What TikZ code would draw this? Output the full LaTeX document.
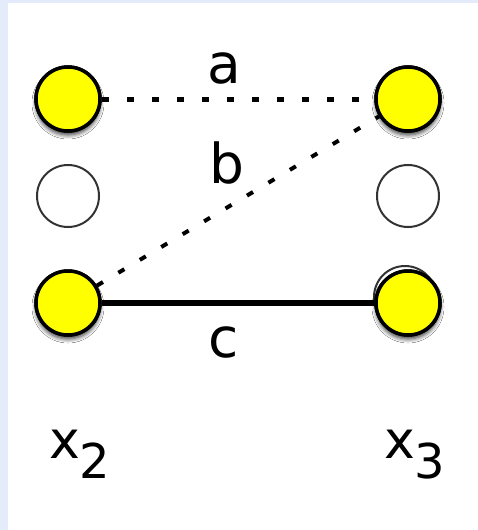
\documentclass[tikz,border=0pt]{standalone}
\usepackage{fontspec}
\setmainfont{DejaVu Sans}
\usetikzlibrary{shadows.blur}
\definecolor{bgblue}{HTML}{E4EBFB}
\definecolor{ring}{HTML}{333333}
\definecolor{yel}{HTML}{FFFF00}
\tikzset{
  yel/.style={circle, minimum size=64pt, inner sep=0pt, fill=yel, draw=black, line width=3.5pt,
    blur shadow={shadow xshift=0pt, shadow yshift=-4pt, shadow blur radius=4pt, shadow opacity=45}},
  hol/.style={circle, minimum size=62pt, inner sep=0pt, draw=ring, line width=2pt, fill=white},
  lbl/.style={anchor=base, inner sep=0pt, font=\fontsize{55}{55}\selectfont},
  dotl/.style={line width=5pt, dash pattern=on 7pt off 18pt},
  dotb/.style={line width=4pt, dash pattern=on 7pt off 18pt},
  solidl/.style={line width=6.5pt}
}
\begin{document}
\begin{tikzpicture}[x=1pt,y=-1pt]
\fill[bgblue] (0,0) rectangle (478,530);
\fill[white] (8,3) rectangle (478,530);
\useasboundingbox (0,0) rectangle (478,530);
% hollow circles
\node[hol] (ml) at (68,196) {};
\node[hol] (mr) at (408,196) {};
\node[hol] (hid) at (405,297) {};
% yellow circles
\node[yel] (tl) at (68,99) {};
\node[yel] (tr) at (408,99) {};
\node[yel] (bl) at (68,303) {};
\node[yel] (br) at (408,303) {};
% connectors
\draw[dotl] (tl) -- (tr);
\draw[dotb] (bl) -- (tr);
\draw[solidl] (bl) -- (br);
% redraw circles over line ends
\node[yel] at (68,99) {};
\node[yel] at (408,99) {};
\node[yel] at (68,303) {};
\node[yel] at (408,303) {};
% labels
\node[lbl] (la) at (224,83) {a};
\node[lbl] (lb) at (227,183) {b};
\node[lbl] (lc) at (224,357) {c};
\node[lbl, font=\fontsize{52}{52}\selectfont] (x2) at (65,458) {x};
\node[lbl, font=\fontsize{48}{48}\selectfont] (s2) at (95,478) {2};
\node[lbl, font=\fontsize{52}{52}\selectfont] (x3) at (400,458) {x};
\node[lbl, font=\fontsize{48}{48}\selectfont] (s3) at (430,478) {3};
\end{tikzpicture}
\end{document}
